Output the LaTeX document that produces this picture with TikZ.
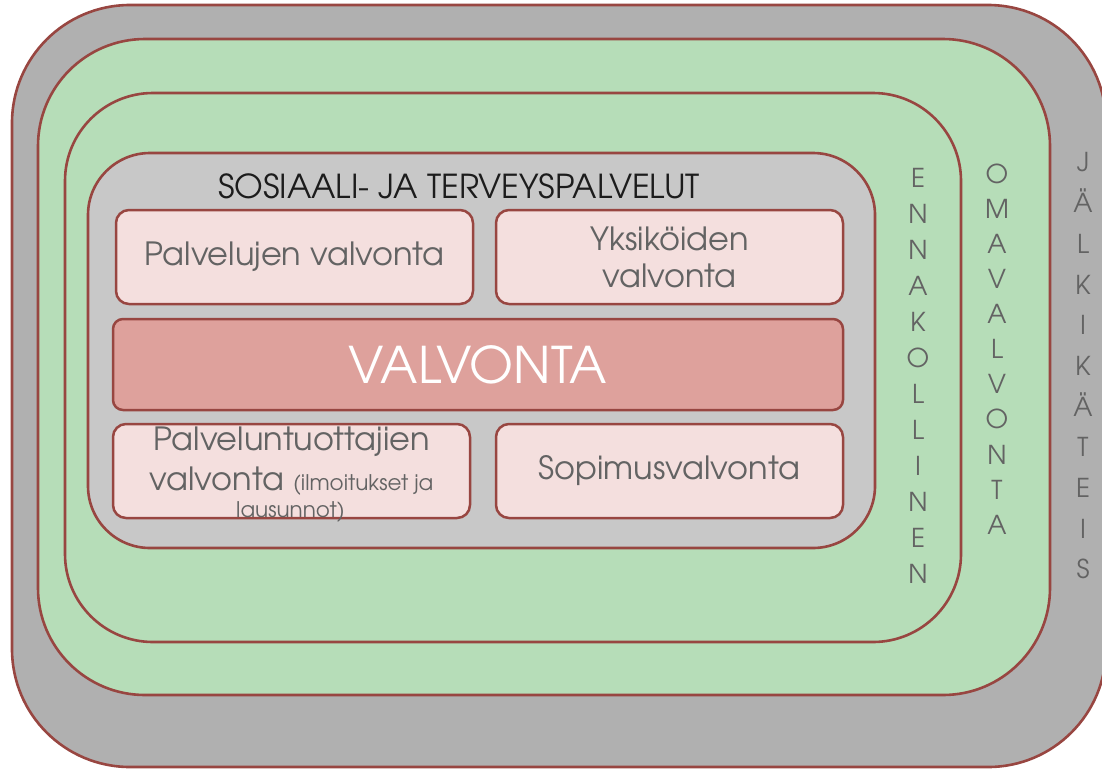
\documentclass[tikz,border=0pt]{standalone}
\usepackage{fontspec}
\setmainfont{texgyreadventor}[Extension=.otf, UprightFont=*-regular, BoldFont=*-bold, ItalicFont=*-italic, BoldItalicFont=*-bolditalic]
\definecolor{edge}{RGB}{152,70,65}
\definecolor{outgray}{RGB}{176,176,176}
\definecolor{ingray}{RGB}{200,200,200}
\definecolor{leaf}{RGB}{182,221,184}
\definecolor{boxpink}{RGB}{244,223,222}
\definecolor{boxrose}{RGB}{222,161,156}
\definecolor{txtgray}{RGB}{99,99,99}
\definecolor{titletxt}{RGB}{28,28,28}
\begin{document}
\begin{tikzpicture}[x=1pt,y=-1pt,
  ring/.style={draw=edge, line width=2.6pt},
  box/.style={draw=edge, line width=2.5pt, fill=boxpink, rounded corners=13pt, inner sep=0pt, text=txtgray, align=center, font=\fontsize{32}{37}\selectfont},
  lbl/.style={text=txtgray, inner sep=0pt},
  vert/.style={text=txtgray, align=center, inner sep=0pt}]
\useasboundingbox (0,0) rectangle (1102,769);
\clip (0,0) rectangle (1102,769);
\draw[ring, fill=outgray, rounded corners=118pt] (12,5) rectangle (1106,767);
\draw[ring, fill=leaf, rounded corners=107pt] (38,39) rectangle (1050,695);
\draw[ring, fill=leaf, rounded corners=88pt] (65,93) rectangle (961,642);
\draw[ring, fill=ingray, rounded corners=62pt] (88,153) rectangle (875,548);

\node[anchor=base, text=titletxt, inner sep=0pt, font=\fontsize{33}{40}\selectfont] (title) at (459,198) {SOSIAALI- JA TERVEYSPALVELUT};

\node[box, minimum width=357pt, minimum height=94pt] (pv) at (294.5,257) {Palvelujen valvonta};
\node[box, minimum width=347pt, minimum height=94pt] (yv) at (669.5,257) {Yksiköiden\\valvonta};
\node[box, fill=boxrose, rounded corners=10pt, minimum width=730pt, minimum height=91pt, text=white, font=\fontsize{50.5}{55}\selectfont] (val) at (478,364.5) {VALVONTA};
\node[box, minimum width=357pt, minimum height=94pt] (ptv) at (291.5,471) {};
\node[box, minimum width=347pt, minimum height=94pt] (sv) at (669.5,471) {Sopimusvalvonta};

\node[lbl, anchor=base, font=\fontsize{32}{37}\selectfont] (ptv1) at (291.5,450) {Palveluntuottajien};
\node[lbl, anchor=base, font=\fontsize{32}{37}\selectfont] (ptv2) at (291.5,490) {valvonta {\fontsize{21.5}{24}\selectfont (ilmoitukset ja}};
\node[lbl, anchor=base, font=\fontsize{21.5}{24}\selectfont] (ptv3) at (290.5,517) {lausunnot)};

\node[vert, font=\fontsize{26}{36}\selectfont] (enn) at (918,375.5) {E\\N\\N\\A\\K\\O\\L\\L\\I\\N\\E\\N};
\node[vert, font=\fontsize{26}{35.1}\selectfont] (oma) at (997,349) {O\\M\\A\\V\\A\\L\\V\\O\\N\\T\\A};
\node[vert, font=\fontsize{26}{40.7}\selectfont] (jalk) at (1083,366) {J\\Ä\\L\\K\\I\\K\\Ä\\T\\E\\I\\S};
\end{tikzpicture}
\end{document}
